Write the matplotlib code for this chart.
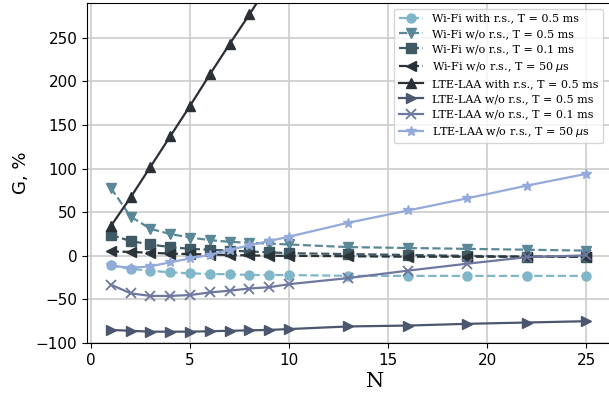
import numpy as np
import matplotlib
matplotlib.use('Agg')
import matplotlib.pyplot as plt

N = [1, 2, 3, 4, 5, 6, 7, 8, 9, 10, 13, 16, 19, 22, 25]

wifi_rs_05 = [-11, -15, -17, -19, -20, -21, -21, -22, -22, -22, -23, -23, -23, -23, -23]
wifi_nors_05 = [78, 45, 31, 25, 21, 18, 16, 15, 14, 13, 10, 9, 8, 7, 6]
wifi_nors_01 = [24, 17, 13, 10, 8, 7, 6, 5, 4, 3, 2, 1, 0, -1, -1]
wifi_nors_50 = [5, 4.5, 3.5, 2.5, 2, 1.5, 1, 0.5, 0, 0, -0.5, -1, -1, -1, -1]
lte_rs_05 = [34, 67, 102, 137, 172, 208, 243, 277, 312]
lte_nors_05 = [-85, -86, -87, -87, -87, -86.5, -86, -85.5, -85, -84, -81, -80, -78, -76.5, -75]
lte_nors_01 = [-33, -43, -46, -46, -45, -42, -40, -37.5, -36, -32.5, -25.5, -17, -9, -1.5, 0.5]
lte_nors_50 = [-11, -14, -12, -7.5, -3, 1, 7, 12, 17, 22, 38, 52, 66, 80.5, 94]

labels = ['Wi-Fi with r.s., T = 0.5 ms', 'Wi-Fi w/o r.s., T = 0.5 ms',
          'Wi-Fi w/o r.s., T = 0.1 ms', r'Wi-Fi w/o r.s., T = 50 $\mu$s',
          'LTE-LAA with r.s., T = 0.5 ms', 'LTE-LAA w/o r.s., T = 0.5 ms',
          'LTE-LAA w/o r.s., T = 0.1 ms', r'LTE-LAA w/o r.s., T = 50 $\mu$s']
colors = ['#80b6c9', '#5b8896', '#3f5a65', '#2a3337',
          '#2b2f36', '#4b566f', '#6e789f', '#93aadb']

fig = plt.figure(figsize=(6.09, 3.96), dpi=100)
ax = fig.add_axes([87/609, 53/396, 523/609, 340/396])

ms = 6.5
lw = 1.6
ax.plot(N, wifi_rs_05, 'o--', color=colors[0], ms=ms, lw=lw, label=labels[0])
ax.plot(N, wifi_nors_05, 'v--', color=colors[1], ms=ms, lw=lw, label=labels[1])
ax.plot(N, wifi_nors_01, 's--', color=colors[2], ms=ms, lw=lw, label=labels[2])
ax.plot(N, wifi_nors_50, '<--', color=colors[3], ms=ms, lw=lw, label=labels[3])
ax.plot(N[:len(lte_rs_05)], lte_rs_05, '^-', color=colors[4], ms=ms, lw=lw, label=labels[4])
ax.plot(N, lte_nors_05, '>-', color=colors[5], ms=ms, lw=lw, label=labels[5])
ax.plot(N, lte_nors_01, 'x-', color=colors[6], ms=ms, mew=1.3, lw=lw, label=labels[6])
ax.plot(N, lte_nors_50, '*-', color=colors[7], ms=ms + 1, lw=lw, label=labels[7])

ax.set_xlim(-0.2, 26.2)
ax.set_ylim(-100, 290)
ax.set_xticks([0, 5, 10, 15, 20, 25])
ax.set_yticks([-100, -50, 0, 50, 100, 150, 200, 250])
ax.tick_params(labelsize=11)
ax.grid(True, color='#cccccc', lw=1.2)
ax.set_axisbelow(True)
ax.spines['right'].set_visible(False)

ax.set_xlabel('N', family='DejaVu Serif', fontsize=15)
ax.xaxis.set_label_coords(0.55, -0.085)
ax.set_ylabel('G, %', fontsize=13)

leg = ax.legend(loc='upper right', prop={'family': 'DejaVu Serif', 'size': 8},
                labelspacing=0.48, handlelength=2.2, borderaxespad=0.4,
                bbox_to_anchor=(0.995, 0.995))

fig.savefig('out.png', dpi=100)
